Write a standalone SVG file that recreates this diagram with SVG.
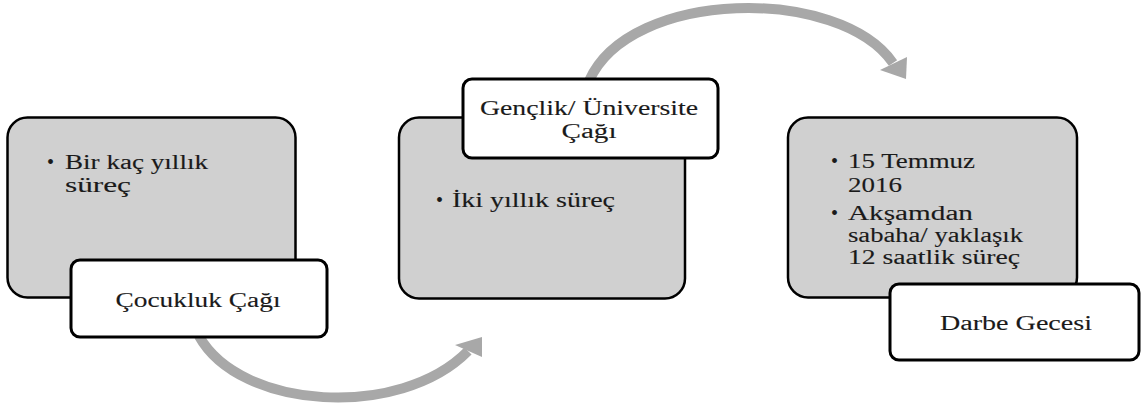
<svg xmlns="http://www.w3.org/2000/svg" width="1142" height="411" viewBox="0 0 1142 411">
<style>
.panel{fill:#d0d0d0;stroke:#000;stroke-width:2.5}
.label{fill:#fff;stroke:#000;stroke-width:3}
.arc{fill:none;stroke:#a8a8a8;stroke-width:10}
.head{fill:#a8a8a8}
.t{font-family:'Liberation Serif','Times New Roman',serif;font-size:20px;fill:#1a1a1a}
.t text{stroke:#1a1a1a;stroke-width:0.12}
.c{text-anchor:middle}
</style>
<rect width="1142" height="411" fill="#fff"/>
<g id="connectors">
<path class="arc" d="M199,336 C240,410 400,420 468,351"/>
<polygon class="head" points="455,345 482,337 482,357"/>
<path class="arc" d="M589,81 C630,-12 840,-14 893,63"/>
<polygon class="head" points="880,70 907,57 906,79"/>
</g>
<g id="node-cocukluk" class="t">
<rect class="panel" x="7.5" y="117.5" width="288" height="180" rx="20"/>
<text x="47" y="169">•</text>
<text x="65" y="169" textLength="143" lengthAdjust="spacingAndGlyphs">Bir kaç yıllık</text>
<text x="65" y="192" textLength="66" lengthAdjust="spacingAndGlyphs">süreç</text>
<rect class="label" x="71" y="260" width="256" height="77" rx="9"/>
<text class="c" x="198" y="307" textLength="165" lengthAdjust="spacingAndGlyphs">Çocukluk Çağı</text>
</g>
<g id="node-genclik" class="t">
<rect class="panel" x="399" y="117.5" width="286" height="181" rx="20"/>
<text x="436" y="207">•</text>
<text x="452" y="207" textLength="163" lengthAdjust="spacingAndGlyphs">İki yıllık süreç</text>
<rect class="label" x="463" y="79" width="255" height="79" rx="9"/>
<text class="c" x="589" y="115" textLength="218" lengthAdjust="spacingAndGlyphs">Gençlik/ Üniversite</text>
<text class="c" x="589" y="138" textLength="55" lengthAdjust="spacingAndGlyphs">Çağı</text>
</g>
<g id="node-darbe" class="t">
<rect class="panel" x="788" y="117.5" width="289" height="180" rx="20"/>
<text x="831" y="168">•</text>
<text x="848" y="168" textLength="127" lengthAdjust="spacingAndGlyphs">15 Temmuz</text>
<text x="848" y="192" textLength="54" lengthAdjust="spacingAndGlyphs">2016</text>
<text x="831" y="220">•</text>
<text x="848" y="220" textLength="125" lengthAdjust="spacingAndGlyphs">Akşamdan</text>
<text x="848" y="242" textLength="175" lengthAdjust="spacingAndGlyphs">sabaha/ yaklaşık</text>
<text x="848" y="264" textLength="172" lengthAdjust="spacingAndGlyphs">12 saatlik süreç</text>
<rect class="label" x="890" y="284" width="249" height="76" rx="9"/>
<text class="c" x="1016" y="330" textLength="152" lengthAdjust="spacingAndGlyphs">Darbe Gecesi</text>
</g>
</svg>
